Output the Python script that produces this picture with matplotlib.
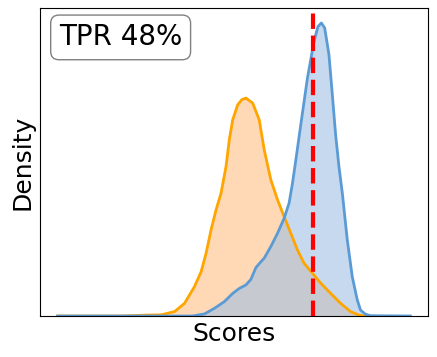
import matplotlib
matplotlib.use("Agg")
import matplotlib.pyplot as plt

# Orange (negative) density curve
neg_x = [0, 18.08, 25.14, 29.38, 33.14, 35.96, 38.79, 40.68, 42.09, 43.50, 44.92, 46.33, 47.74,
         48.67, 49.63, 51.05, 52.26, 53.39, 55.28, 57.15, 58.56, 60.45, 62.34, 64.21, 66.10,
         67.99, 69.86, 72.23, 74.58, 77.40, 80.23, 83.05, 85.40, 87.29]
neg_y = [0, 0.0, 0.003, 0.004, 0.015, 0.043, 0.100, 0.151, 0.214, 0.294, 0.362, 0.419, 0.510,
         0.601, 0.669, 0.720, 0.738, 0.743, 0.726, 0.669, 0.567, 0.464, 0.396, 0.339, 0.282,
         0.225, 0.180, 0.146, 0.112, 0.077, 0.043, 0.015, 0.003, 0.0]

# Blue (positive) density curve
pos_x = [0, 37.85, 38.70, 41.61, 44.44, 47.26, 49.63, 51.50, 53.39, 54.80, 56.21, 57.63, 58.56,
         60.45, 62.34, 64.21, 65.62, 66.58, 67.51, 68.93, 70.82, 72.68, 73.81, 74.77, 75.71,
         76.92, 77.88, 78.81, 79.75, 80.71, 82.12, 83.53, 84.94, 85.88, 87.29, 88.70, 100]
pos_y = [0, 0.0, 0.001, 0.007, 0.026, 0.049, 0.077, 0.094, 0.106, 0.125, 0.165, 0.185, 0.197,
         0.237, 0.282, 0.333, 0.385, 0.453, 0.530, 0.652, 0.811, 0.936, 0.987, 0.999, 0.982,
         0.891, 0.754, 0.618, 0.510, 0.419, 0.259, 0.134, 0.055, 0.020, 0.006, 0.001, 0.0]

threshold = 72.5
label_text = "TPR 48%"

fig = plt.figure(figsize=(4.37, 3.57), dpi=100)
ax = fig.add_axes([40 / 437, (357 - 316) / 357, (428 - 40) / 437, (316 - 8) / 357])

ax.fill_between(neg_x, neg_y, color="tab:orange", alpha=0.3, linewidth=0)
ax.plot(neg_x, neg_y, color="orange", linewidth=2, solid_joinstyle="round")
ax.fill_between(pos_x, pos_y, color="#A0C1E3", alpha=0.6, linewidth=0)
ax.plot(pos_x, pos_y, color="#5B9BD5", linewidth=2, solid_joinstyle="round")

ax.axvline(threshold, color="red", linestyle="--", linewidth=3)

ax.set_xlim(-5, 105)
ax.set_ylim(0, 1.05)
ax.set_xticks([])
ax.set_yticks([])
ax.set_xlabel("Scores", fontsize=18)
ax.set_ylabel("Density", fontsize=18)

ax.text(0.049, 0.95, label_text, transform=ax.transAxes, fontsize=20, va="top", ha="left",
        bbox=dict(boxstyle="round,pad=0.3", facecolor="white", edgecolor="gray"))

fig.savefig("out.png", dpi=100)
